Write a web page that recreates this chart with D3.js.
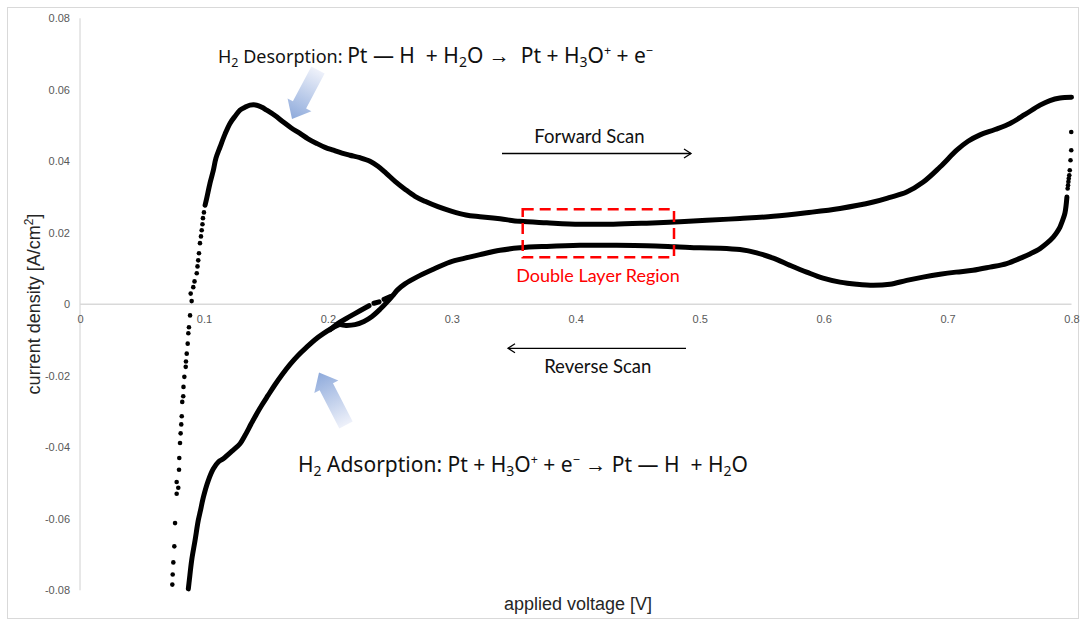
<!DOCTYPE html>
<html>
<head>
<meta charset="utf-8">
<script src="https://cdn.jsdelivr.net/npm/d3@7"></script>
<style>
  body { margin: 0; background: #fff; }
  svg { display: block; }
</style>
</head>
<body>
<svg id="chart" width="1086" height="625"></svg>
<script>
// Cyclic voltammogram of Pt: applied voltage [V] vs current density [A/cm2]

// Forward scan, sparse start (fast current change near the lower vertex)
const fwdSparseV = [0.0745, 0.0748, 0.0753, 0.0761, 0.0767, 0.0780, 0.0793, 0.0780, 0.0799, 0.0801,
  0.0807, 0.0812, 0.0817, 0.0821, 0.0825, 0.0833, 0.0835, 0.0842, 0.0853, 0.0855,
  0.0861, 0.0869, 0.0874, 0.0879, 0.0888, 0.0901, 0.0893, 0.0914, 0.0924, 0.0942,
  0.0948, 0.0954, 0.0960, 0.0968, 0.0976, 0.0982, 0.0988, 0.0992, 0.1000];
const fwdSparseI = [-0.0784, -0.0756, -0.0722, -0.0677, -0.0612, -0.0530, -0.0513, -0.0497, -0.0463, -0.0430,
  -0.0388, -0.0361, -0.0336, -0.0313, -0.0273, -0.0257, -0.0231, -0.0203, -0.0175, -0.0160,
  -0.0138, -0.0110, -0.0081, -0.0064, -0.0031, 0.0009, 0.0030, 0.0048, 0.0064, 0.0087,
  0.0106, 0.0123, 0.0143, 0.0171, 0.0190, 0.0207, 0.0224, 0.0241, 0.0257];

// Forward scan, dense part up to the upper vertex
const fwdV = [0.1009, 0.1022, 0.1049, 0.1076, 0.1097, 0.1130, 0.1170, 0.1210, 0.1251, 0.1291,
  0.1331, 0.1372, 0.1426, 0.1468, 0.1506, 0.1573, 0.1640, 0.1702, 0.1775, 0.1840,
  0.1910, 0.1977, 0.2044, 0.2114, 0.2178, 0.2259, 0.2340, 0.2404, 0.2469, 0.2542,
  0.2622, 0.2703, 0.2784, 0.2888, 0.3001, 0.3114, 0.3227, 0.3389, 0.3550, 0.3766,
  0.4034, 0.4303, 0.4572, 0.4841, 0.5056, 0.5325, 0.5594, 0.5863, 0.6132, 0.6401,
  0.6535, 0.6670, 0.6804, 0.6939, 0.7074, 0.7165, 0.7262, 0.7383, 0.7504, 0.7625,
  0.7746, 0.7826, 0.7907, 0.8000];
const fwdI = [0.0277, 0.0296, 0.0339, 0.0375, 0.0409, 0.0440, 0.0476, 0.0506, 0.0526, 0.0543,
  0.0551, 0.0557, 0.0557, 0.0551, 0.0543, 0.0528, 0.0510, 0.0494, 0.0478, 0.0463,
  0.0450, 0.0439, 0.0431, 0.0423, 0.0417, 0.0410, 0.0400, 0.0386, 0.0367, 0.0344,
  0.0322, 0.0302, 0.0288, 0.0273, 0.0260, 0.0250, 0.0245, 0.0239, 0.0232, 0.0228,
  0.0224, 0.0224, 0.0227, 0.0231, 0.0235, 0.0240, 0.0246, 0.0256, 0.0268, 0.0286,
  0.0299, 0.0314, 0.0342, 0.0384, 0.0431, 0.0456, 0.0474, 0.0489, 0.0506, 0.0531,
  0.0557, 0.0570, 0.0577, 0.0579];

// Reverse scan, sparse start just after the upper vertex
const revSparseV = [0.7998, 0.7998, 0.7992, 0.7986, 0.7982, 0.7978, 0.7975, 0.7972, 0.7969];
const revSparseI = [0.0482, 0.0431, 0.0403, 0.0375, 0.0361, 0.0352, 0.0343, 0.0333, 0.0324];

// Reverse scan, dense part down to the lower vertex
const revV = [0.7963, 0.7947, 0.7923, 0.7907, 0.7883, 0.7853, 0.7802, 0.7746, 0.7665, 0.7608,
  0.7477, 0.7342, 0.7205, 0.7068, 0.6939, 0.6802, 0.6670, 0.6535, 0.6401, 0.6267,
  0.6132, 0.5995, 0.5863, 0.5729, 0.5594, 0.5460, 0.5325, 0.5164, 0.5002, 0.4801,
  0.4572, 0.4303, 0.4034, 0.3766, 0.3550, 0.3389, 0.3227, 0.3106, 0.2985, 0.2851,
  0.2717, 0.2622, 0.2558, 0.2525, 0.2477, 0.2421, 0.2356, 0.2291, 0.2219, 0.2146,
  0.2090, 0.2033, 0.1963, 0.1896, 0.1829, 0.1759, 0.1695, 0.1630, 0.1573, 0.1517,
  0.1469, 0.1426, 0.1380, 0.1331, 0.1291, 0.1226, 0.1156, 0.1116, 0.1076, 0.1035,
  0.0995, 0.0972, 0.0954, 0.0928, 0.0901, 0.0882, 0.0874];
const revI = [0.0300, 0.0255, 0.0230, 0.0216, 0.0202, 0.0188, 0.0171, 0.0156, 0.0141, 0.0132,
  0.0114, 0.0104, 0.0095, 0.0090, 0.0084, 0.0076, 0.0067, 0.0056, 0.0053, 0.0056,
  0.0062, 0.0073, 0.0090, 0.0109, 0.0129, 0.0144, 0.0153, 0.0157, 0.0158, 0.0161,
  0.0164, 0.0165, 0.0165, 0.0162, 0.0158, 0.0151, 0.0139, 0.0129, 0.0118, 0.0098,
  0.0076, 0.0057, 0.0039, 0.0025, 0.0006, -0.0014, -0.0034, -0.0048, -0.0057, -0.0059,
  -0.0057, -0.0067, -0.0082, -0.0099, -0.0120, -0.0143, -0.0168, -0.0197, -0.0225, -0.0255,
  -0.0281, -0.0306, -0.0335, -0.0367, -0.0390, -0.0411, -0.0432, -0.0441, -0.0460, -0.0493,
  -0.0540, -0.0577, -0.0605, -0.0661, -0.0716, -0.0772, -0.0796];

// Overlapping reverse-scan segment around 0.2-0.25 V (null = missing points)
const revBranchV = [0.2017, 0.2098, 0.2178, 0.2259, 0.2332, null, 0.2372, 0.2413, null, 0.2453, 0.2509];
const revBranchI = [-0.0071, -0.0050, -0.0034, -0.0018, -0.0004, null, 0.0003, 0.0007, null, 0.0014, 0.0022];

const xTicks = [0, 0.1, 0.2, 0.3, 0.4, 0.5, 0.6, 0.7, 0.8];
const yTicks = [-0.08, -0.06, -0.04, -0.02, 0, 0.02, 0.04, 0.06, 0.08];

const zip = (vs, is) => vs.map((v, k) => ({ v: v, i: is[k] }));

const svg = d3.select("#chart");
const x = d3.scaleLinear().domain([0, 0.8]).range([80, 1071.5]);
const y = d3.scaleLinear().domain([-0.08, 0.08]).range([590.3, 18.3]);

// outer frame
svg.append("rect").attr("x", 7.5).attr("y", 7.5).attr("width", 1071).attr("height", 611)
  .attr("fill", "#fff").attr("stroke", "#d9d9d9").attr("stroke-width", 1);

// axis lines
svg.append("line").attr("x1", x(0)).attr("x2", x(0)).attr("y1", y(0.08)).attr("y2", y(-0.08))
  .attr("stroke", "#d0d0d0").attr("stroke-width", 1);
svg.append("line").attr("x1", x(0)).attr("x2", x(0.8)).attr("y1", y(0)).attr("y2", y(0))
  .attr("stroke", "#d9d9d9").attr("stroke-width", 1.5);

const tickFont = "'Liberation Sans', Arial, sans-serif";
const yAxis = svg.append("g").attr("transform", `translate(${x(0)},0)`)
  .call(d3.axisLeft(y).tickValues(yTicks).tickSize(0).tickPadding(10).tickFormat(d => String(d)));
const xAxis = svg.append("g").attr("transform", `translate(0,${y(0)})`)
  .call(d3.axisBottom(x).tickValues(xTicks).tickSize(0).tickPadding(11).tickFormat(d => String(d)));
[xAxis, yAxis].forEach(g => {
  g.select(".domain").remove();
  g.selectAll("text").attr("fill", "#595959").style("font-family", tickFont).style("font-size", "11px");
});

// axis titles
svg.append("text").attr("x", 578).attr("y", 610).attr("text-anchor", "middle")
  .style("font-family", tickFont).style("font-size", "18px").attr("fill", "#262626")
  .text("applied voltage [V]");
const yTitle = svg.append("text").attr("transform", "translate(40,304) rotate(-90)")
  .attr("text-anchor", "middle").style("font-family", tickFont).style("font-size", "18px")
  .attr("fill", "#262626");
yTitle.append("tspan").text("current density [A/cm");
yTitle.append("tspan").attr("dy", -7).style("font-size", "12px").text("2");
yTitle.append("tspan").attr("dy", 7).text("]");

// measured curves
const line = d3.line().defined(d => d.i !== null).x(d => x(d.v)).y(d => y(d.i))
  .curve(d3.curveCatmullRom.alpha(0.5));
const curveStyle = sel => sel.attr("fill", "none").attr("stroke", "#000").attr("stroke-width", 5)
  .attr("stroke-linecap", "round").attr("stroke-linejoin", "round");

svg.append("path").datum(zip(fwdV, fwdI)).attr("d", line).call(curveStyle);
svg.append("path").datum(zip(revV, revI)).attr("d", line).call(curveStyle);
svg.append("path").datum(zip(revBranchV, revBranchI)).attr("d", line).call(curveStyle);

svg.append("g").selectAll("circle")
  .data(zip(fwdSparseV, fwdSparseI).concat(zip(revSparseV, revSparseI)))
  .join("circle").attr("cx", d => x(d.v)).attr("cy", d => y(d.i)).attr("r", 2.3).attr("fill", "#000");

// annotations
const defs = svg.append("defs");
function blueArrow(id, tail, tip) {
  const dx = tip[0] - tail[0], dy = tip[1] - tail[1];
  const len = Math.hypot(dx, dy), ang = Math.atan2(dy, dx) * 180 / Math.PI;
  const g = defs.append("linearGradient").attr("id", id)
    .attr("gradientUnits", "userSpaceOnUse").attr("x1", 0).attr("y1", 0).attr("x2", len).attr("y2", 0);
  g.append("stop").attr("offset", 0).attr("stop-color", "#eef1fa");
  g.append("stop").attr("offset", 1).attr("stop-color", "#8eaadb");
  const hl = 16, hw = 13.5, sw = 7.5;
  svg.append("path")
    .attr("transform", `translate(${tail[0]},${tail[1]}) rotate(${ang})`)
    .attr("d", `M0,${-sw} L${len - hl},${-sw} L${len - hl},${-hw} L${len},0 L${len - hl},${hw} L${len - hl},${sw} L0,${sw} Z`)
    .attr("fill", `url(#${id})`);
}
blueArrow("gradDes", [318, 70], [292, 119]);
blueArrow("gradAds", [346, 425], [319, 372.5]);

const eqFont = "'Noto Sans', 'Open Sans', sans-serif";
function equation(xp, yp, parts) {
  const t = svg.append("text").attr("x", xp).attr("y", yp).style("font-family", eqFont).attr("fill", "#111");
  parts.forEach(p => {
    const s = t.append("tspan").style("font-size", p.size + "px").attr("xml:space", "preserve").text(p.t);
    if (p.dy) s.attr("dy", p.dy);
  });
}
// H2 desorption
equation(218, 63, [
  { t: "H", size: 18 }, { t: "2", size: 12.5, dy: 4 }, { t: " Desorption: ", size: 18, dy: -4 },
  { t: "Pt — H  + H", size: 21 }, { t: "2", size: 14, dy: 4 }, { t: "O →  Pt + H", size: 21, dy: -4 },
  { t: "3", size: 14, dy: 4 }, { t: "O", size: 21, dy: -4 }, { t: "+", size: 12.5, dy: -8 },
  { t: " + e", size: 21, dy: 8 }, { t: "−", size: 12.5, dy: -8 }
]);
// H2 adsorption
equation(298, 472, [
  { t: "H", size: 21 }, { t: "2", size: 14, dy: 4 }, { t: " Adsorption: ", size: 21, dy: -4 },
  { t: "Pt + H", size: 21 }, { t: "3", size: 14, dy: 4 }, { t: "O", size: 21, dy: -4 },
  { t: "+", size: 12.5, dy: -8 }, { t: " + e", size: 21, dy: 8 }, { t: "−", size: 12.5, dy: -8 },
  { t: " → Pt — H  + H", size: 21, dy: 8 }, { t: "2", size: 14, dy: 4 }, { t: "O", size: 21, dy: -4 }
]);

const labelFont = "Lato, 'Open Sans', sans-serif";
function scanArrow(x1, x2, yp) {
  svg.append("line").attr("x1", x1).attr("x2", x2).attr("y1", yp).attr("y2", yp)
    .attr("stroke", "#000").attr("stroke-width", 1.3);
  const dir = Math.sign(x2 - x1);
  svg.append("path").attr("d", `M${x2 - dir * 7},${yp - 4.5} L${x2},${yp} L${x2 - dir * 7},${yp + 4.5}`)
    .attr("fill", "none").attr("stroke", "#000").attr("stroke-width", 1.3);
}
scanArrow(502, 691, 153.5);
svg.append("text").attr("x", 589.5).attr("y", 143).attr("text-anchor", "middle")
  .style("font-family", labelFont).style("font-size", "18.5px").attr("fill", "#111").text("Forward Scan");
scanArrow(686, 508, 348.3);
svg.append("text").attr("x", 597.7).attr("y", 373).attr("text-anchor", "middle")
  .style("font-family", labelFont).style("font-size", "18.5px").attr("fill", "#111").text("Reverse Scan");

svg.append("rect").attr("x", 522.7).attr("y", 209.3).attr("width", 151.3).attr("height", 48)
  .attr("fill", "none").attr("stroke", "#ff0000").attr("stroke-width", 2.5).attr("stroke-dasharray", "11,6");
svg.append("text").attr("x", 598).attr("y", 281.5).attr("text-anchor", "middle")
  .style("font-family", labelFont).style("font-size", "18px").attr("fill", "#ff0000").text("Double Layer Region");
</script>
</body>
</html>
